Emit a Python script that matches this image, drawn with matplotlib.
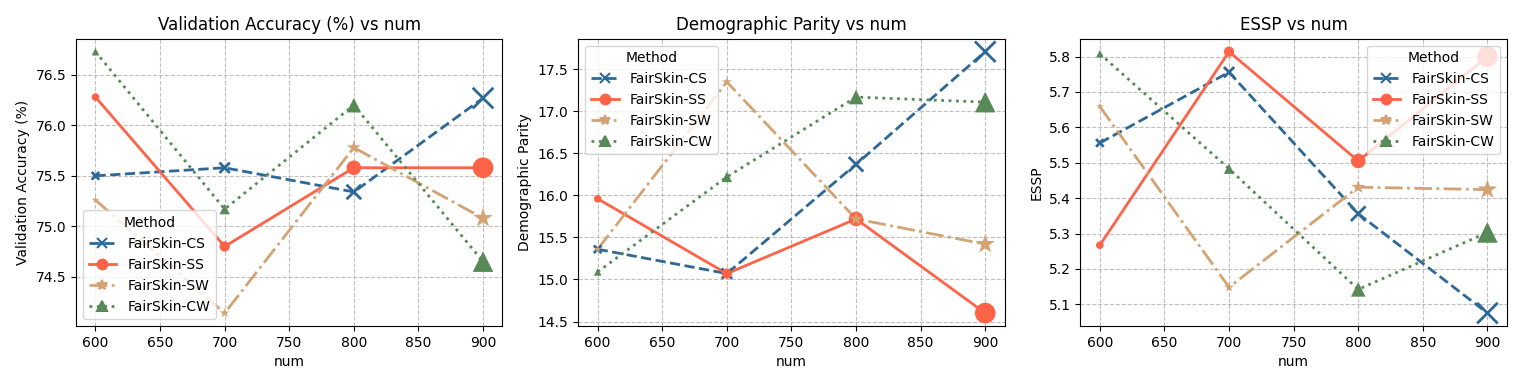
import numpy as np
import matplotlib.pyplot as plt
from matplotlib.lines import Line2D

# ================================
# DATA
# ================================
nums = [600, 700, 800, 900]
methods = ["FairSkin-CS", "FairSkin-SS", "FairSkin-SW", "FairSkin-CW"]

acc_cs = [75.50, 75.58, 75.34, 76.27]
acc_ss = [76.28, 74.80, 75.58, 75.58]
acc_sw = [75.26, 74.14, 75.78, 75.08]
acc_cw = [76.73, 75.17, 76.20, 74.65]

dp_cs = [15.36, 15.07, 16.37, 17.71]
dp_ss = [15.96, 15.07, 15.72, 14.60]
dp_sw = [15.36, 17.35, 15.72, 15.42]
dp_cw = [15.09, 16.22, 17.17, 17.11]

essp_cs = [5.556, 5.756, 5.356, 5.075]
essp_ss = [5.267, 5.814, 5.505, 5.800]
essp_sw = [5.659, 5.148, 5.431, 5.424]
essp_cw = [5.808, 5.483, 5.142, 5.303]

panels = [
    ("Validation Accuracy (%) vs num", "Validation Accuracy (%)", [acc_cs, acc_ss, acc_sw, acc_cw], "lower left"),
    ("Demographic Parity vs num", "Demographic Parity", [dp_cs, dp_ss, dp_sw, dp_cw], "upper left"),
    ("ESSP vs num", "ESSP", [essp_cs, essp_ss, essp_sw, essp_cw], "upper right"),
]

# ================================
# STYLE
# ================================
colors = ["#2e6896", "#ff6347", "#d4a373", "#588a58"]
markers = ["x", "o", "*", "^"]
styles = ["--", "-", "-.", ":"]
sizes = [30, 55, 110, 220]  # marker area grows with num

fig, axes = plt.subplots(1, 3, figsize=(15.22, 3.86), dpi=100)
fig.subplots_adjust(left=0.05, right=0.99, top=0.9, bottom=0.155, wspace=0.178)

for ax, (title, ylabel, series, loc) in zip(axes, panels):
    handles = []
    for vals, c, m, ls in zip(series, colors, markers, styles):
        ax.plot(nums, vals, color=c, linestyle=ls, linewidth=2, zorder=2)
        if m == "x":
            ax.scatter(nums, vals, s=sizes, marker=m, color=c, linewidths=2, zorder=3)
        else:
            ax.scatter(nums, vals, s=sizes, marker=m, color=c, edgecolors="none", zorder=3)
        handles.append(Line2D([0], [0], color=c, linestyle=ls, linewidth=2,
                              marker=m, markersize=7, markeredgewidth=1.5))
    ax.set_title(title, fontsize=12)
    ax.set_xlabel("num", fontsize=10)
    ax.set_ylabel(ylabel, fontsize=10)
    ax.set_xticks([600, 650, 700, 750, 800, 850, 900])
    ax.grid(True, linestyle="--", color="#b0b0b0", alpha=0.8)
    ax.legend(handles, methods, title="Method", loc=loc, fontsize=10,
              title_fontsize=10)

plt.savefig("out.png")
